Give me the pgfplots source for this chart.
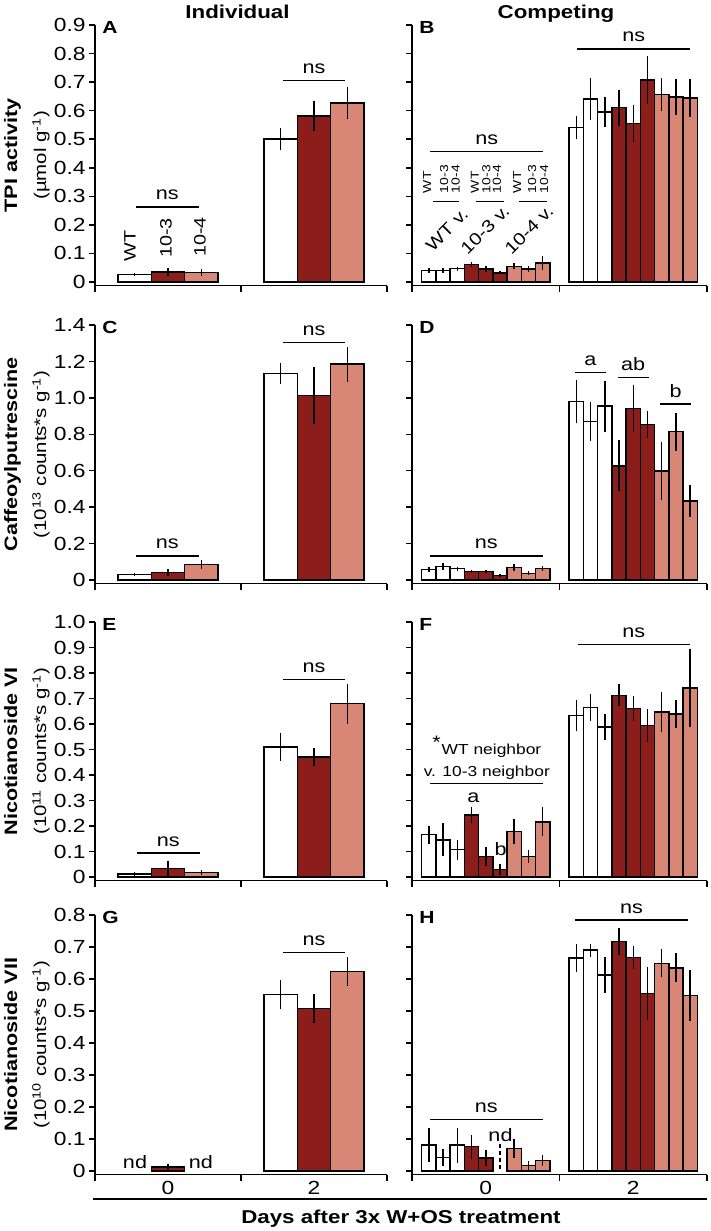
\documentclass[border=0pt]{standalone}
\usepackage{fontspec}
\setmainfont{Liberation Sans}[FakeStretch=1.2]
\usepackage{pgfplots}
\pgfplotsset{compat=1.18}
\definecolor{dred}{RGB}{139,30,27}
\definecolor{salm}{RGB}{216,134,118}
\newcommand\fs[1]{\fontsize{#1}{#1}\selectfont}
\newcommand\sig[4]{%
  \draw[line width=0.7pt] (axis cs:#1,#3) -- (axis cs:#2,#3);
  \node[anchor=base, font=\fs{9}, inner sep=0pt, yshift=3.5pt] at (axis cs:{(#1+#2)/2},#3) {#4};}
\newcommand\sml[2]{\node[rotate=90, anchor=west, font=\fs{5.8}, inner sep=0pt] at (axis cs:#1,0.31) {#2};}
\pgfplotsset{
  panel/.style={
    scale only axis, axis lines*=left,
    xmin=-0.5, xmax=1.5, xtick={-0.5,0.5,1.5}, xticklabels={},
    tick align=outside, major tick length=3pt,
    axis line style={line width=0.75pt, black},
    every tick/.style={black, line width=0.75pt},
    yticklabel style={font=\fs{9.5}, inner sep=1.5pt},
    clip=false,
    /pgf/number format/assume math mode=true,
    ylabel style={at={(axis description cs:-0.233,0.5)}, anchor=center, align=center, font=\fontsize{9}{14.5}\selectfont},
  },
  leftp/.style={panel, width=146pt},
  rightp/.style={panel, width=147.5pt, yticklabels={}},
  bL/.style={ybar, bar width=0.228, bar shift=0pt, draw=black, line width=0.75pt,
     /pgfplots/error bars/y dir=both, /pgfplots/error bars/y explicit,
     /pgfplots/error bars/error mark=none,
     /pgfplots/error bars/error bar style={line width=0.75pt, black}},
  bR/.style={bL, bar width=0.0965},
  bottomrow/.style={extra x ticks={0,1}, extra x tick labels={0,2},
     extra x tick style={major tick length=0pt, tick label style={font=\fs{9.5}}}},
}
\begin{document}
\begin{tikzpicture}
\useasboundingbox (0,0) rectangle (355.5pt,-615.5pt);

\node[anchor=base, font=\fs{9.3}\bfseries] at (118.75pt,-9.2pt) {Individual};
\node[anchor=base, font=\fs{9.3}\bfseries] at (278pt,-9.2pt) {Competing};

% ---------- A ----------
\begin{axis}[leftp, at={(47.5pt,-12.5pt)}, anchor=north west, height=130.25pt,
  ymin=-0.0123, ymax=0.9, ytick={0,0.1,0.2,0.3,0.4,0.5,0.6,0.7,0.8,0.9},
  yticklabels={0,0.1,0.2,0.3,0.4,0.5,0.6,0.7,0.8,0.9},
  ylabel={{\bfseries TPI activity}\\{\fontsize{8.5}{14.5}\selectfont (µmol g\textsuperscript{-1})}}]
\addplot[bL, fill=white] coordinates {(-0.228,0.026) +- (0,0.005) (0.772,0.501) +- (0,0.04)};
\addplot[bL, fill=dred] coordinates {(0,0.035) +- (0,0.015) (1,0.582) +- (0,0.053)};
\addplot[bL, fill=salm] coordinates {(0.228,0.033) +- (0,0.012) (1.228,0.627) +- (0,0.057)};
\sig{-0.22}{0.21}{0.263}{ns}
\sig{0.788}{1.212}{0.705}{ns}
\node[rotate=90, anchor=west, font=\fs{8.25}, inner sep=0pt] at (axis cs:-0.26,0.07) {WT};
\node[rotate=90, anchor=west, font=\fs{8.25}, inner sep=0pt] at (axis cs:-0.014,0.084) {10-3};
\node[rotate=90, anchor=west, font=\fs{8.25}, inner sep=0pt] at (axis cs:0.219,0.0875) {10-4};
\node[anchor=west, font=\fs{8.75}\bfseries, inner sep=0pt, xshift=3.5pt, yshift=-1pt] at (rel axis cs:0,1) {A};
\end{axis}

% ---------- B ----------
\begin{axis}[rightp, at={(206pt,-12.5pt)}, anchor=north west, height=130.25pt,
  ymin=-0.0123, ymax=0.9, ytick={0,0.1,0.2,0.3,0.4,0.5,0.6,0.7,0.8,0.9}]
\addplot[bR, fill=white] coordinates {(-0.386,0.041) +- (0,0.008) (-0.2895,0.041) +- (0,0.008) (-0.193,0.047) +- (0,0.007) (0.614,0.541) +- (0,0.04) (0.7105,0.64) +- (0,0.073) (0.807,0.596) +- (0,0.053)};
\addplot[bR, fill=dred] coordinates {(-0.0965,0.061) +- (0,0.01) (0,0.046) +- (0,0.01) (0.0965,0.032) +- (0,0.005) (0.9035,0.611) +- (0,0.063) (1,0.555) +- (0,0.064) (1.0965,0.707) +- (0,0.083)};
\addplot[bR, fill=salm] coordinates {(0.193,0.055) +- (0,0.01) (0.2895,0.046) +- (0,0.01) (0.386,0.067) +- (0,0.025) (1.193,0.657) +- (0,0.058) (1.2895,0.648) +- (0,0.064) (1.386,0.645) +- (0,0.067)};
\sig{-0.375}{0.39}{0.456}{ns}
\sig{0.621}{1.385}{0.816}{ns}
\draw[line width=0.7pt] (axis cs:-0.36,0.281) -- (axis cs:-0.179,0.281);
\draw[line width=0.7pt] (axis cs:-0.066,0.281) -- (axis cs:0.124,0.281);
\draw[line width=0.7pt] (axis cs:0.225,0.281) -- (axis cs:0.415,0.281);
\sml{-0.398}{WT}
\sml{-0.283}{10-3}
\sml{-0.205}{10-4}
\sml{-0.073}{WT}
\sml{0.004}{10-3}
\sml{0.076}{10-4}
\sml{0.212}{WT}
\sml{0.314}{10-3}
\sml{0.395}{10-4}
\node[rotate=45, font=\fs{8.5}, inner sep=0pt] at (axis cs:-0.263,0.183) {WT v.};
\node[rotate=45, font=\fs{8.5}, inner sep=0pt] at (axis cs:-0.005,0.183) {10-3 v.};
\node[rotate=45, font=\fs{8.5}, inner sep=0pt] at (axis cs:0.293,0.183) {10-4 v.};
\node[anchor=west, font=\fs{8.75}\bfseries, inner sep=0pt, xshift=3.5pt, yshift=-1pt] at (rel axis cs:0,1) {B};
\end{axis}

% ---------- C ----------
\begin{axis}[leftp, at={(47.5pt,-162.5pt)}, anchor=north west, height=129.25pt,
  ymin=-0.0192, ymax=1.4, ytick={0,0.2,0.4,0.6,0.8,1.0,1.2,1.4},
  yticklabels={0,0.2,0.4,0.6,0.8,1.0,1.2,1.4},
  ylabel={{\bfseries Caffeoylputrescine}\\{\fontsize{8.5}{14.5}\selectfont (10\textsuperscript{13} counts*s g\textsuperscript{-1})}}]
\addplot[bL, fill=white] coordinates {(-0.228,0.031) +- (0,0.007) (0.772,1.135) +- (0,0.058)};
\addplot[bL, fill=dred] coordinates {(0,0.04) +- (0,0.02) (1,1.012) +- (0,0.158)};
\addplot[bL, fill=salm] coordinates {(0.228,0.086) +- (0,0.025) (1.228,1.185) +- (0,0.096)};
\sig{-0.22}{0.21}{0.132}{ns}
\sig{0.788}{1.212}{1.303}{ns}
\node[anchor=west, font=\fs{8.75}\bfseries, inner sep=0pt, xshift=3.5pt, yshift=-1pt] at (rel axis cs:0,1) {C};
\end{axis}

% ---------- D ----------
\begin{axis}[rightp, at={(206pt,-162.5pt)}, anchor=north west, height=129.25pt,
  ymin=-0.0192, ymax=1.4, ytick={0,0.2,0.4,0.6,0.8,1.0,1.2,1.4}]
\addplot[bR, fill=white] coordinates {(-0.386,0.058) +- (0,0.015) (-0.2895,0.073) +- (0,0.018) (-0.193,0.062) +- (0,0.012) (0.614,0.98) +- (0,0.12) (0.7105,0.87) +- (0,0.105) (0.807,0.955) +- (0,0.14)};
\addplot[bR, fill=dred] coordinates {(-0.0965,0.046) +- (0,0.008) (0,0.046) +- (0,0.008) (0.0965,0.026) +- (0,0.008) (0.9035,0.626) +- (0,0.14) (1,0.942) +- (0,0.13) (1.0965,0.855) +- (0,0.075)};
\addplot[bR, fill=salm] coordinates {(0.193,0.068) +- (0,0.02) (0.2895,0.037) +- (0,0.01) (0.386,0.064) +- (0,0.015) (1.193,0.598) +- (0,0.16) (1.2895,0.814) +- (0,0.105) (1.386,0.435) +- (0,0.087)};
\sig{-0.378}{0.386}{0.132}{ns}
\sig{0.605}{0.815}{1.14}{a}
\sig{0.894}{1.105}{1.111}{ab}
\sig{1.181}{1.392}{0.966}{b}
\node[anchor=west, font=\fs{8.75}\bfseries, inner sep=0pt, xshift=3.5pt, yshift=-1pt] at (rel axis cs:0,1) {D};
\end{axis}

% ---------- E ----------
\begin{axis}[leftp, at={(47.5pt,-311pt)}, anchor=north west, height=129.25pt,
  ymin=-0.0137, ymax=1.0, ytick={0,0.1,0.2,0.3,0.4,0.5,0.6,0.7,0.8,0.9,1.0},
  yticklabels={0,0.1,0.2,0.3,0.4,0.5,0.6,0.7,0.8,0.9,1.0},
  ylabel={{\bfseries Nicotianoside VI}\\{\fontsize{8.5}{14.5}\selectfont (10\textsuperscript{11} counts*s g\textsuperscript{-1})}}]
\addplot[bL, fill=white] coordinates {(-0.228,0.011) +- (0,0.008) (0.772,0.51) +- (0,0.054)};
\addplot[bL, fill=dred] coordinates {(0,0.034) +- (0,0.03) (1,0.47) +- (0,0.036)};
\addplot[bL, fill=salm] coordinates {(0.228,0.018) +- (0,0.01) (1.228,0.68) +- (0,0.078)};
\sig{-0.214}{0.219}{0.094}{ns}
\sig{0.788}{1.212}{0.774}{ns}
\node[anchor=west, font=\fs{8.75}\bfseries, inner sep=0pt, xshift=3.5pt, yshift=-1pt] at (rel axis cs:0,1) {E};
\end{axis}

% ---------- F ----------
\begin{axis}[rightp, at={(206pt,-311pt)}, anchor=north west, height=129.25pt,
  ymin=-0.0137, ymax=1.0, ytick={0,0.1,0.2,0.3,0.4,0.5,0.6,0.7,0.8,0.9,1.0}]
\addplot[bR, fill=white] coordinates {(-0.386,0.166) +- (0,0.036) (-0.2895,0.146) +- (0,0.064) (-0.193,0.107) +- (0,0.04) (0.614,0.634) +- (0,0.062) (0.7105,0.664) +- (0,0.052) (0.807,0.588) +- (0,0.051)};
\addplot[bR, fill=dred] coordinates {(-0.0965,0.244) +- (0,0.031) (0,0.081) +- (0,0.038) (0.0965,0.029) +- (0,0.023) (0.9035,0.712) +- (0,0.043) (1,0.66) +- (0,0.048) (1.0965,0.595) +- (0,0.065)};
\addplot[bR, fill=salm] coordinates {(0.193,0.179) +- (0,0.05) (0.2895,0.081) +- (0,0.026) (0.386,0.216) +- (0,0.057) (1.193,0.647) +- (0,0.08) (1.2895,0.64) +- (0,0.055) (1.386,0.742) +- (0,0.154)};
\sig{0.623}{1.385}{0.911}{ns}
\draw[line width=0.7pt] (axis cs:-0.378,0.366) -- (axis cs:0.39,0.366);
\node[anchor=base, font=\fs{7.25}, inner sep=0pt] at (axis cs:0.007,0.481) {\textsuperscript{\fs{9}*}WT neighbor};
\node[anchor=base, font=\fs{7.25}, inner sep=0pt] at (axis cs:0.007,0.395) {v. 10-3 neighbor};
\node[anchor=base, font=\fs{9}, inner sep=0pt] at (axis cs:-0.084,0.294) {a};
\node[anchor=base, font=\fs{9}, inner sep=0pt] at (axis cs:0.101,0.085) {b};
\node[anchor=west, font=\fs{8.75}\bfseries, inner sep=0pt, xshift=3.5pt, yshift=-1pt] at (rel axis cs:0,1) {F};
\end{axis}

% ---------- G ----------
\begin{axis}[leftp, bottomrow, at={(47.5pt,-457.5pt)}, anchor=north west, height=129.75pt,
  ymin=-0.0109, ymax=0.8, ytick={0,0.1,0.2,0.3,0.4,0.5,0.6,0.7,0.8},
  yticklabels={0,0.1,0.2,0.3,0.4,0.5,0.6,0.7,0.8},
  ylabel={{\bfseries Nicotianoside VII}\\{\fontsize{8.5}{14.5}\selectfont (10\textsuperscript{10} counts*s g\textsuperscript{-1})}}]
\addplot[bL, fill=white] coordinates {(0.772,0.551) +- (0,0.046)};
\addplot[bL, fill=dred] coordinates {(0,0.013) +- (0,0.01) (1,0.508) +- (0,0.044)};
\addplot[bL, fill=salm] coordinates {(1.228,0.623) +- (0,0.046)};
\sig{0.788}{1.212}{0.683}{ns}
\node[anchor=base, font=\fs{9}, inner sep=0pt] at (axis cs:-0.226,0.0084) {nd};
\node[anchor=base, font=\fs{9}, inner sep=0pt] at (axis cs:0.226,0.0084) {nd};
\node[anchor=west, font=\fs{8.75}\bfseries, inner sep=0pt, xshift=3.5pt, yshift=-1pt] at (rel axis cs:0,1) {G};
\end{axis}

% ---------- H ----------
\begin{axis}[rightp, bottomrow, at={(206pt,-457.5pt)}, anchor=north west, height=129.75pt,
  ymin=-0.0109, ymax=0.8, ytick={0,0.1,0.2,0.3,0.4,0.5,0.6,0.7,0.8}]
\addplot[bR, fill=white] coordinates {(-0.386,0.081) +- (0,0.053) (-0.2895,0.042) +- (0,0.027) (-0.193,0.081) +- (0,0.055) (0.614,0.665) +- (0,0.043) (0.7105,0.69) +- (0,0.02) (0.807,0.6125) +- (0,0.056)};
\addplot[bR, fill=dred] coordinates {(-0.0965,0.076) +- (0,0.037) (0,0.04) +- (0,0.025) (0.9035,0.717) +- (0,0.043) (1,0.667) +- (0,0.036) (1.0965,0.554) +- (0,0.082)};
\addplot[bR, fill=salm] coordinates {(0.193,0.071) +- (0,0.03) (0.2895,0.017) +- (0,0.013) (0.386,0.033) +- (0,0.017) (1.193,0.649) +- (0,0.044) (1.2895,0.635) +- (0,0.045) (1.386,0.548) +- (0,0.08)};
\sig{-0.378}{0.386}{0.161}{ns}
\sig{0.605}{1.373}{0.784}{ns}
\node[anchor=base, font=\fs{9}, inner sep=0pt] at (axis cs:0.1,0.0916) {nd};
\draw[line width=0.7pt, dash pattern=on 2pt off 1.5pt] (axis cs:0.097,0.005) -- (axis cs:0.097,0.087);
\node[anchor=west, font=\fs{8.75}\bfseries, inner sep=0pt, xshift=3.5pt, yshift=-1pt] at (rel axis cs:0,1) {H};
\end{axis}

\draw[line width=0.75pt] (46.5pt,-599.5pt) -- (353.5pt,-599.5pt);
\node[anchor=base, font=\fs{9.3}\bfseries] at (200.5pt,-611.5pt) {Days after 3x W+OS treatment};
\end{tikzpicture}
\end{document}
